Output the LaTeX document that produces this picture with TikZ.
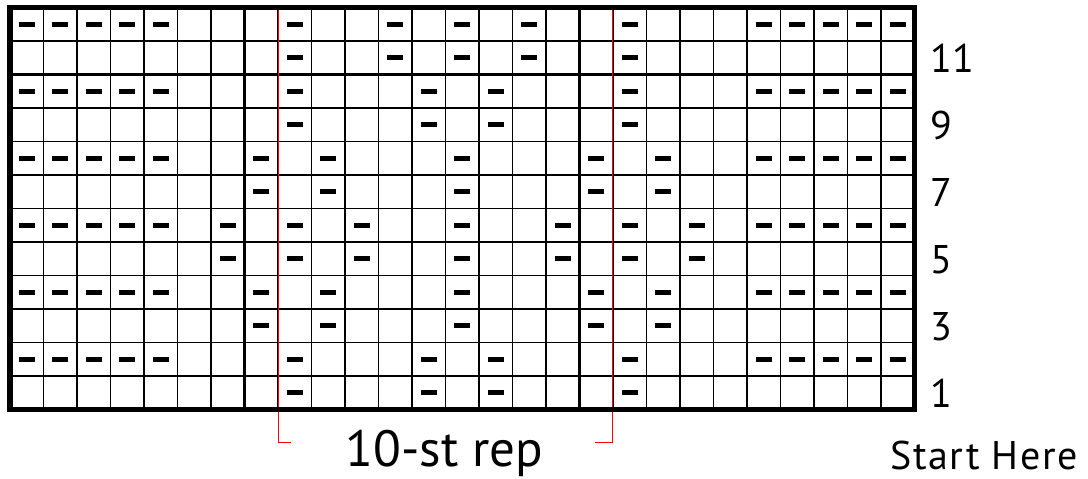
\documentclass[tikz,border=0pt]{standalone}
\usepackage{fontspec}
\setmainfont{PT Sans}
\begin{document}
\begin{tikzpicture}[x=1pt,y=-1pt,
  purl/.style={fill=black},
  gridthin/.style={line width=1.7pt},
  gridthick/.style={line width=3pt},
  border/.style={line width=5.5pt},
  rep/.style={draw=red, line width=1.5pt},
  rowlab/.style={anchor=base west, font=\fontsize{40}{40}\selectfont, inner sep=0pt},
  title/.style={anchor=base, font=\fontsize{51}{51}\selectfont, inner sep=0pt},
  start/.style={anchor=base west, font=\fontsize{40}{40}\selectfont\addfontfeature{LetterSpace=4}, inner sep=0pt}
]
\useasboundingbox (0,0) rectangle (1088,479);
% thin grid
\foreach \c in {1,...,26} \draw[gridthin] ({10+33.5*\c},7.5) -- ({10+33.5*\c},409.5);
\foreach \r in {1,...,11} \draw[gridthin] (10,{7.5+33.5*\r}) -- (914.5,{7.5+33.5*\r});
% thick dividers
\foreach \c in {7,17} \draw[gridthick] ({10+33.5*\c},7.5) -- ({10+33.5*\c},409.5);
\draw[gridthick] (10,{7.5+33.5*2}) -- (914.5,{7.5+33.5*2});
% purl dashes
\foreach \r/\cols in {
  0/{1,2,3,4,5,9,12,14,16,19,23,24,25,26,27},
  1/{9,12,14,16,19},
  2/{1,2,3,4,5,9,13,15,19,23,24,25,26,27},
  3/{9,13,15,19},
  4/{1,2,3,4,5,8,10,14,18,20,23,24,25,26,27},
  5/{8,10,14,18,20},
  6/{1,2,3,4,5,7,9,11,14,17,19,21,23,24,25,26,27},
  7/{7,9,11,14,17,19,21},
  8/{1,2,3,4,5,8,10,14,18,20,23,24,25,26,27},
  9/{8,10,14,18,20},
  10/{1,2,3,4,5,9,13,15,19,23,24,25,26,27},
  11/{9,13,15,19}}{
  \foreach \c in \cols {
    \fill[purl] ({10+33.5*(\c-0.5)-8},{7.5+33.5*(\r+0.5)-2.4}) rectangle ++(16,4.8);
  }
}
% repeat markers
\coordinate (repLtop) at (278.5,9);
\coordinate (repLbot) at (278.5,442.5);
\coordinate (repLend) at (291,442.5);
\coordinate (repRtop) at (612.5,9);
\coordinate (repRbot) at (612.5,442.5);
\coordinate (repRend) at (595,442.5);
\draw[rep] (repLtop) -- (repLbot) -- (repLend);
\draw[rep] (repRtop) -- (repRbot) -- (repRend);
% border
\draw[border] (10,7.5) rectangle (914.5,409.5);
% labels
\foreach \n/\r in {11/1,9/3,7/5,5/7,3/9,1/11}
  \node[rowlab] (lab\n) at (930,{7.5+33.5*(\r+0.5)+15}) {\n};
\node[title] (reptext) at (444.5,466) {10-st rep};
\node[start] (starthere) at (890,469) {Start Here};
\end{tikzpicture}
\end{document}
